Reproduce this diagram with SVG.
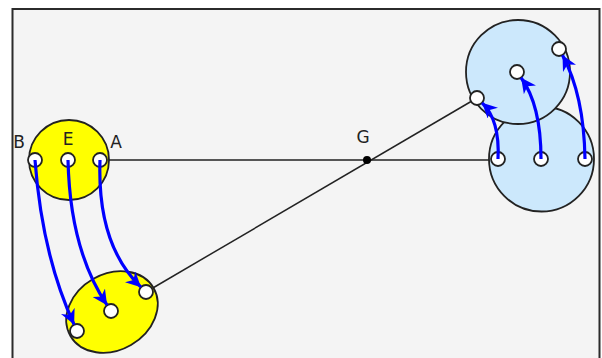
<svg xmlns="http://www.w3.org/2000/svg" width="602" height="358" viewBox="0 0 602 358">
<style>
.frame{fill:#f4f4f4;stroke:#2b2b2b;stroke-width:2}
.yellow{fill:#ffff00;stroke:#222;stroke-width:1.8}
.blue{fill:#cce8fc;stroke:#222;stroke-width:1.8}
.pt{fill:#ffffff;stroke:#222;stroke-width:1.8}
.thin{fill:none;stroke:#222;stroke-width:1.5}
.arr{fill:none;stroke:#0000ff;stroke-width:3.2;marker-end:url(#ah)}
.lbl{font-family:"DejaVu Sans",sans-serif;font-size:17px;fill:#222;text-anchor:middle}
</style>
<defs>
<marker id="ah" markerUnits="userSpaceOnUse" markerWidth="17" markerHeight="15" viewBox="0 0 17 15" refX="15" refY="7.5" orient="auto">
<path d="M0,0 L15,7.5 L0,15 L4.5,7.5 Z" fill="#0000ff"/>
</marker>
</defs>
<rect class="frame" x="12.5" y="9" width="587" height="360"/>
<g id="connectors">
<line class="thin" x1="100" y1="160" x2="498" y2="160"/>
<line class="thin" x1="146" y1="292" x2="477" y2="98"/>
</g>
<g id="circleBEA">
<circle class="yellow" cx="69" cy="160" r="40"/>
</g>
<g id="ellipseLower">
<ellipse class="yellow" cx="112" cy="312" rx="48" ry="38" transform="rotate(-30 112 312)"/>
</g>
<g id="circleRightLower">
<circle class="blue" cx="541.5" cy="159" r="52.5"/>
</g>
<g id="circleRightUpper">
<circle class="blue" cx="518" cy="72" r="52"/>
</g>
<g id="points">
<circle class="pt" cx="35" cy="160" r="7"/>
<circle class="pt" cx="68" cy="160" r="7"/>
<circle class="pt" cx="100" cy="160" r="7"/>
<circle class="pt" cx="77" cy="331" r="7"/>
<circle class="pt" cx="111" cy="311" r="7"/>
<circle class="pt" cx="146" cy="292" r="7"/>
<circle class="pt" cx="498" cy="159" r="7"/>
<circle class="pt" cx="541" cy="159" r="7"/>
<circle class="pt" cx="585" cy="159" r="7"/>
<circle class="pt" cx="477" cy="98" r="7"/>
<circle class="pt" cx="517" cy="72" r="7"/>
<circle class="pt" cx="559" cy="49" r="7"/>
</g>
<g id="G">
<circle cx="367" cy="160" r="4" fill="#000"/>
<text class="lbl" x="363" y="143">G</text>
</g>
<g id="labels">
<text class="lbl" x="19" y="148">B</text>
<text class="lbl" x="68" y="145">E</text>
<text class="lbl" x="116" y="148">A</text>
</g>
<g id="arrows">
<path class="arr" d="M35,160 Q42,255 74.1,324.6"/>
<path class="arr" d="M68,160 Q70,250 107.1,305.2"/>
<path class="arr" d="M100,160 Q97,245 141,287.2"/>
<path class="arr" d="M498,159 Q500,120 482.1,102.8"/>
<path class="arr" d="M541,159 Q541,105 521.1,77.7"/>
<path class="arr" d="M585,159 Q584,95 562.5,55.2"/>
</g>
</svg>
